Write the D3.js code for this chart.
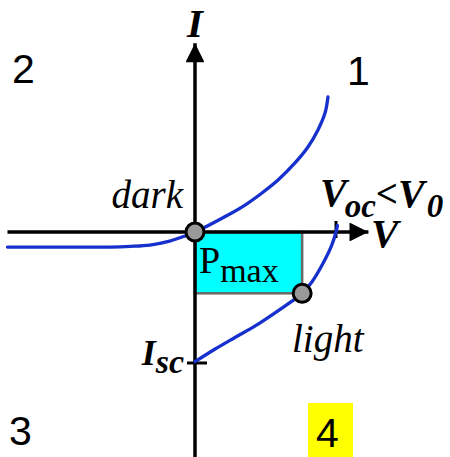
<!DOCTYPE html>
<html>
<head>
<meta charset="utf-8">
<script src="https://cdn.jsdelivr.net/npm/d3@7/dist/d3.min.js"></script>
<style>
  html, body { margin: 0; padding: 0; background: #fff; }
  svg { display: block; }
  .serif { font-family: "Liberation Serif", "Times New Roman", serif; }
  .sans { font-family: "Liberation Sans", Arial, sans-serif; }
</style>
</head>
<body>
<svg id="chart" width="450" height="457"></svg>
<script>
// Solar-cell I–V characteristic: voltage normalised to Voc, current to Isc.
const darkV  = [-1.33, -0.96, -0.60, -0.46, -0.32, -0.18, -0.07, 0, 0.234, 0.355, 0.475, 0.589, 0.709, 0.801, 0.872, 0.922, 0.943];
const darkI  = [-0.115, -0.115, -0.115, -0.11, -0.10, -0.07, -0.03, 0, 0.13, 0.206, 0.298, 0.397, 0.527, 0.649, 0.779, 0.908, 1.031];
const lightV = [0, 0.14, 0.28, 0.43, 0.57, 0.71, 0.76, 0.83, 0.91, 0.97, 1.0, 1.01];
const lightI = [-0.99, -0.895, -0.807, -0.715, -0.615, -0.51, -0.468, -0.38, -0.235, -0.10, 0, 0.05];
const pmaxV = 0.76, pmaxI = -0.468;   // maximum power point on the light curve
const vocV = 1, iscI = -1;
const vAxisRange = [-1.33, 1.23];
const iAxisRange = [-1.72, 1.44];
const quadrants = ["1", "2", "3", "4"];

const svg = d3.select("#chart");
const x = d3.scaleLinear().domain([0, 1]).range([195, 336]);
const y = d3.scaleLinear().domain([0, -1]).range([232, 363]);

const blue = "#1530cc";
const axisW = 3.5;

// arrow marker
const defs = svg.append("defs");
defs.append("marker")
  .attr("id", "arrow").attr("viewBox", "0 0 10 10")
  .attr("refX", 10).attr("refY", 5)
  .attr("markerWidth", 6.2).attr("markerHeight", 5.4)
  .attr("markerUnits", "strokeWidth")
  .attr("orient", "auto")
  .append("path").attr("d", "M0,0 L10,5 L0,10 Z").attr("fill", "#000");

// Pmax rectangle (drawn below axes)
svg.append("rect")
  .attr("x", x(0)).attr("y", y(0))
  .attr("width", x(pmaxV) - x(0)).attr("height", y(pmaxI) - y(0))
  .attr("fill", "#00ffff").attr("stroke", "#6a6a6a").attr("stroke-width", 2.5);

// axes
svg.append("line")
  .attr("x1", x(vAxisRange[0])).attr("x2", x(vAxisRange[1]))
  .attr("y1", y(0)).attr("y2", y(0))
  .attr("stroke", "#000").attr("stroke-width", axisW).attr("marker-end", "url(#arrow)");
svg.append("line")
  .attr("x1", x(0)).attr("x2", x(0))
  .attr("y1", y(iAxisRange[0])).attr("y2", y(iAxisRange[1]))
  .attr("stroke", "#000").attr("stroke-width", axisW).attr("marker-end", "url(#arrow)");

// ticks at Voc and Isc
svg.append("line")
  .attr("x1", x(vocV)).attr("x2", x(vocV))
  .attr("y1", y(0) - 11).attr("y2", y(0) + 6)
  .attr("stroke", "#000").attr("stroke-width", 3);
svg.append("line")
  .attr("x1", x(0) - 8).attr("x2", x(0) + 12)
  .attr("y1", y(iscI)).attr("y2", y(iscI))
  .attr("stroke", "#000").attr("stroke-width", 3);

// curves
const line = d3.line().x(d => x(d[0])).y(d => y(d[1])).curve(d3.curveCatmullRom.alpha(0.5));
svg.append("path")
  .datum(darkV.map((v, i) => [v, darkI[i]]))
  .attr("d", line).attr("fill", "none")
  .attr("stroke", blue).attr("stroke-width", 3.3).attr("stroke-linecap", "round");
svg.append("path")
  .datum(lightV.map((v, i) => [v, lightI[i]]))
  .attr("d", line).attr("fill", "none")
  .attr("stroke", blue).attr("stroke-width", 3.3).attr("stroke-linecap", "round");

// operating points
[[0, 0], [pmaxV, pmaxI]].forEach(p => {
  svg.append("circle")
    .attr("cx", x(p[0])).attr("cy", y(p[1])).attr("r", 9)
    .attr("fill", "#999").attr("stroke", "#000").attr("stroke-width", 3);
});

// text labels
const t = (cls, px, py, size, opts = {}) => svg.append("text")
  .attr("class", cls).attr("x", px).attr("y", py)
  .attr("font-size", size)
  .attr("font-style", opts.italic ? "italic" : "normal")
  .attr("font-weight", opts.bold ? "bold" : "normal")
  .attr("text-anchor", opts.anchor || "start")
  .attr("fill", "#000");

t("serif", x(0), 37, 41, { italic: true, bold: true, anchor: "middle" }).text("I");
t("serif", 371, 247, 41, { italic: true, bold: true }).text("V");
t("serif", 183, 208, 39, { italic: true, anchor: "end" }).text("dark");
t("serif", 292, 352, 39, { italic: true }).text("light");

const pm = t("serif", x(0) + 4, 273, 38);
pm.append("tspan").text("P");
pm.append("tspan").attr("font-size", 34).attr("dy", 9).text("max");

const isc = t("serif", 184, 365, 36, { italic: true, bold: true, anchor: "end" });
isc.append("tspan").text("I");
isc.append("tspan").attr("font-size", 34).attr("dy", 8).text("sc");

const voc = t("serif", 320, 206, 40, { italic: true, bold: true });
voc.append("tspan").text("V");
voc.append("tspan").attr("font-size", 33).attr("dy", 11).attr("dx", -2).text("oc");
voc.append("tspan").attr("font-size", 39).attr("dy", -10).text("<");
voc.append("tspan").text("V");
voc.append("tspan").attr("font-size", 33).attr("dy", 10).attr("dx", 2).text("0");

// quadrant numbers
svg.append("rect").attr("x", 308).attr("y", 403).attr("width", 45).attr("height", 54).attr("fill", "#ffff00");
const qPos = [[347, 85], [12, 83], [9, 445], [316, 447]];
quadrants.forEach((q, i) => t("sans", qPos[i][0], qPos[i][1], 41).text(q));
</script>
</body>
</html>
